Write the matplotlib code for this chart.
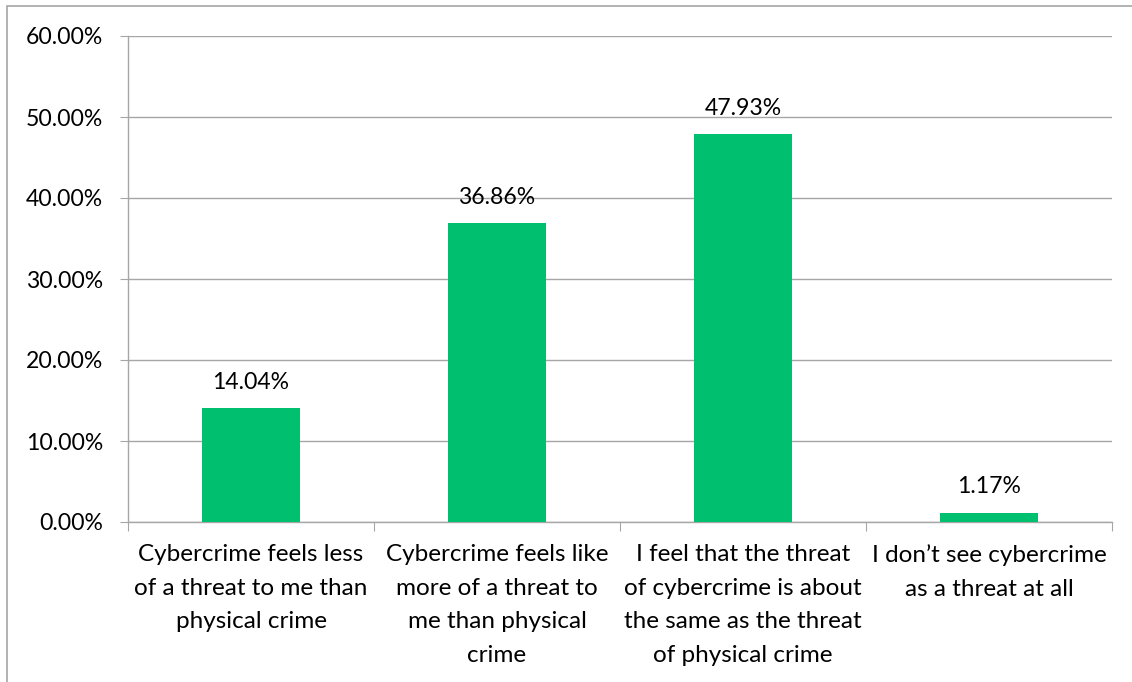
import matplotlib
matplotlib.use("Agg")
import matplotlib.pyplot as plt
from matplotlib.patches import Rectangle
from matplotlib.ticker import FuncFormatter, MultipleLocator

categories = [
    "Cybercrime feels less\nof a threat to me than\nphysical crime",
    "Cybercrime feels like\nmore of a threat to\nme than physical\ncrime",
    "I feel that the threat\nof cybercrime is about\nthe same as the threat\nof physical crime",
    "I don\u2019t see cybercrime\nas a threat at all",
]
values = [14.04, 36.86, 47.93, 1.17]

plt.rcParams["font.family"] = ["Lato", "DejaVu Sans"]
plt.rcParams["text.color"] = "black"
plt.rcParams["ytick.labelcolor"] = "black"
plt.rcParams["xtick.labelcolor"] = "black"

W, H = 1132, 682
fig = plt.figure(figsize=(W / 100, H / 100), dpi=100)
fig.patch.set_facecolor("white")

# chart-area border
fig.add_artist(Rectangle((7 / W, -0.05), 1.2, (H - 6) / H + 0.05,
                         transform=fig.transFigure, fill=False,
                         edgecolor="#A6A6A6", linewidth=1.2))

left, right, top, bottom = 128, 1112, 36, 522
ax = fig.add_axes([left / W, 1 - bottom / H, (right - left) / W, (bottom - top) / H])

grid_c = "#A6A6A6"
num_size = 16.6
cat_size = 17.5

x = range(len(values))
ax.bar(x, values, width=0.4, color="#00BF6F", zorder=3)
ax.set_xlim(-0.5, len(values) - 0.5)
ax.set_ylim(0, 60)
ax.yaxis.set_major_locator(MultipleLocator(10))
ax.yaxis.set_major_formatter(FuncFormatter(lambda v, p: f"{v:.2f}%"))
ax.grid(axis="y", color=grid_c, linewidth=1, zorder=0)

for s in ["top", "right"]:
    ax.spines[s].set_visible(False)
for s in ["left", "bottom"]:
    ax.spines[s].set_color(grid_c)
    ax.spines[s].set_linewidth(1)

ax.tick_params(axis="y", length=5.8, color=grid_c, labelsize=num_size, pad=12)
ax.set_xticks([i - 0.5 for i in range(len(values) + 1)], minor=False)
ax.set_xticklabels([])
ax.tick_params(axis="x", length=6.5, color=grid_c)
ax.set_xticks(list(x), minor=True)
ax.set_xticklabels(categories, minor=True, fontsize=cat_size, linespacing=1.74, va="top")
ax.tick_params(axis="x", which="minor", length=0, pad=16)

for i, v in enumerate(values):
    ax.annotate(f"{v:.2f}%", (i, v), xytext=(0, 13.7), textcoords="offset points",
                ha="center", va="baseline", fontsize=num_size)

fig.savefig("out.png", dpi=100)
